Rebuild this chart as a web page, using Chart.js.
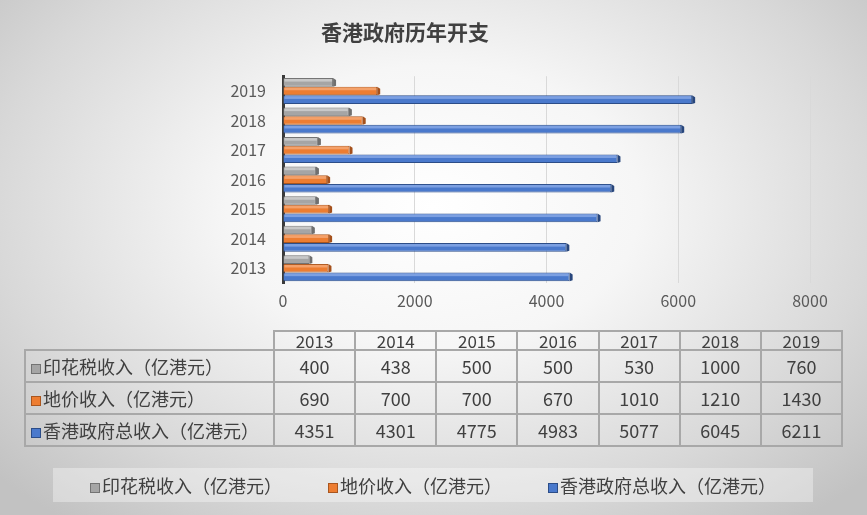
<!DOCTYPE html>
<html>
<head>
<meta charset="utf-8">
<title>香港政府历年开支</title>
<script src="https://cdn.jsdelivr.net/npm/chart.js@4.4.1/dist/chart.umd.min.js"></script>
<style>
  html, body { margin: 0; padding: 0; }
  #wrap {
    position: relative; width: 867px; height: 515px; overflow: hidden;
    background: radial-gradient(ellipse 68% 78% at 50% 40%, #ffffff 0%, #f6f6f6 35%, #d8d8d8 75%, #c2c2c2 100%);
    font-family: "Noto Sans CJK SC", "Noto Sans", sans-serif; color: #404040;
  }
  #barChart { position: absolute; left: 0; top: 0; }
  #dataTable {
    position: absolute; left: 24px; top: 330px;
    border-collapse: collapse; table-layout: fixed; width: 819px;
  }
  #dataTable td {
    border: 2px solid #a8a8a8; padding: 0; text-align: center;
    font-size: 18px; height: 30px; line-height: 30px; white-space: nowrap; overflow: hidden;
  }
  #dataTable tr.head td { font-size: 17px; height: 17px; line-height: 17px; }
  #dataTable td.blank { border-top: none; border-left: none; }
  #dataTable td.name { text-align: left; padding-left: 5px; }
  .key {
    display: inline-block; width: 8px; height: 8px; margin-right: 2px;
    vertical-align: 0px; border: 1px solid;
  }
  #legendBox {
    position: absolute; left: 53px; top: 468px; width: 760px; height: 34px;
    background: rgba(255, 255, 255, 0.35);
    display: flex; justify-content: center; align-items: center; gap: 46px;
    font-size: 18px;
  }
</style>
</head>
<body>
<div id="wrap">
  <canvas id="barChart" width="867" height="515"></canvas>
  <table id="dataTable"></table>
  <div id="legendBox"></div>
</div>
<script>
// data
const years = ['2013', '2014', '2015', '2016', '2017', '2018', '2019'];
const stampDuty = [400, 438, 500, 500, 530, 1000, 760];
const landPremium = [690, 700, 700, 670, 1010, 1210, 1430];
const totalRevenue = [4351, 4301, 4775, 4983, 5077, 6045, 6211];
const seriesNames = ['印花税收入（亿港元）', '地价收入（亿港元）', '香港政府总收入（亿港元）'];
const xTicks = [0, 2000, 4000, 6000, 8000];

const series = [stampDuty, landPremium, totalRevenue];
const fills = ['#a5a5a5', '#ed7d31', '#4a79cc'];
const edges = ['#737373', '#a9561f', '#2c4d88'];
const tops = ['#c8c8c8', '#f4a16a', '#7ca0e2'];
const ends = ['#6f6f6f', '#a4501b', '#28467c'];

const font = 'Noto Sans CJK SC';

// fake 3d look: light strip on top and a short cap at the end of each bar
const bar3d = {
  id: 'bar3d',
  afterDatasetsDraw(chart) {
    const ctx = chart.ctx;
    chart.data.datasets.forEach((ds, i) => {
      const meta = chart.getDatasetMeta(i);
      meta.data.forEach(bar => {
        const { x, y, base, height } = bar.getProps(['x', 'y', 'base', 'height'], true);
        const top = y - height / 2;
        const bottom = y + height / 2;
        ctx.save();
        ctx.fillStyle = tops[i];
        ctx.fillRect(base + 1, top + 1, x - base - 2, height * 0.3);
        ctx.fillStyle = ends[i];
        ctx.beginPath();
        ctx.moveTo(x, top);
        ctx.lineTo(x + 3, top + 2);
        ctx.lineTo(x + 3, bottom - 1);
        ctx.lineTo(x, bottom);
        ctx.closePath();
        ctx.fill();
        ctx.restore();
      });
    });
  }
};

const ctx = document.getElementById('barChart').getContext('2d');
new Chart(ctx, {
  type: 'bar',
  data: {
    labels: years,
    datasets: series.map((values, i) => ({
      label: seriesNames[i],
      data: values,
      backgroundColor: fills[i],
      borderColor: edges[i],
      borderWidth: 1,
      categoryPercentage: 0.88,
      barPercentage: 1
    }))
  },
  options: {
    indexAxis: 'y',
    responsive: false,
    animation: false,
    layout: { padding: { left: 0, right: 57, top: 0, bottom: 192 } },
    plugins: {
      legend: { display: false },
      tooltip: { enabled: false },
      title: {
        display: true,
        text: '香港政府历年开支',
        color: '#404040',
        font: { family: font, size: 21, weight: 'bold' },
        padding: { top: 19, bottom: 32 }
      }
    },
    scales: {
      x: {
        min: 0,
        max: 8000,
        afterBuildTicks: scale => { scale.ticks = xTicks.map(v => ({ value: v })); },
        afterFit: scale => { scale.height = 40; },
        grid: { color: '#d9d9d9', drawTicks: false },
        border: { display: false },
        ticks: {
          padding: 8, color: '#595959', font: { family: font, size: 16 },
          callback: v => String(v)
        }
      },
      y: {
        reverse: true,
        afterFit: scale => { scale.width = 283; },
        grid: { display: false, drawTicks: false },
        border: { display: true, color: '#3a3a3a', width: 3 },
        ticks: { padding: 17, color: '#595959', font: { family: font, size: 16 } }
      }
    }
  },
  plugins: [bar3d]
});

// data table under the chart
const table = document.getElementById('dataTable');
let html = '<colgroup><col style="width:249px">' + years.map(() => '<col>').join('') + '</colgroup>';
html += '<tr class="head"><td class="blank"></td>' + years.map(y => '<td>' + y + '</td>').join('') + '</tr>';
series.forEach((values, i) => {
  html += '<tr><td class="name"><span class="key" style="background:' + fills[i] + ';border-color:' + edges[i] + '"></span>' +
    seriesNames[i] + '</td>' + values.map(v => '<td>' + v + '</td>').join('') + '</tr>';
});
table.innerHTML = html;

// legend
document.getElementById('legendBox').innerHTML = seriesNames.map((name, i) =>
  '<span><span class="key" style="background:' + fills[i] + ';border-color:' + edges[i] + '"></span>' + name + '</span>'
).join('');
</script>
</body>
</html>
